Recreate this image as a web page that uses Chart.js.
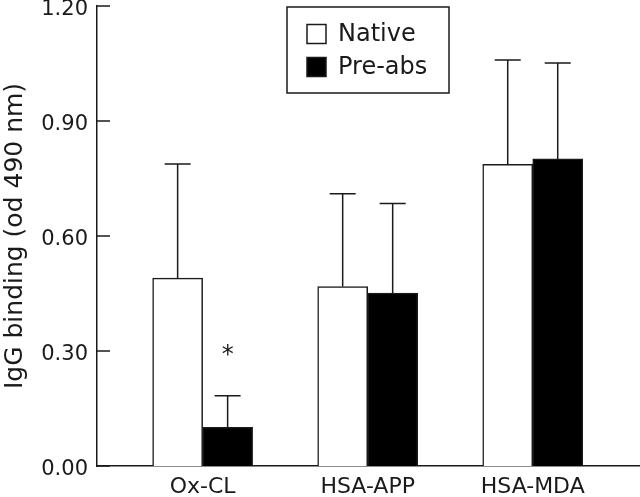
<!DOCTYPE html>
<html>
<head>
<meta charset="utf-8">
<script src="https://cdn.jsdelivr.net/npm/chart.js@4"></script>
<style>
  body { margin: 0; background: #fff; }
</style>
</head>
<body>
<canvas id="bar-chart" width="640" height="497"></canvas>
<script>
// data
var categories = ['Ox-CL', 'HSA-APP', 'HSA-MDA'];
var catPos = [1, 2, 3];
var nativeMean = [0.490, 0.468, 0.787];
var nativeErr = [0.298, 0.242, 0.272];
var preabsMean = [0.101, 0.451, 0.801];
var preabsErr = [0.082, 0.234, 0.250];
var preabsMarks = ['*', '', ''];
var yMin = 0, yMax = 1.2, yStep = 0.3;

var ink = '#1a1a1a';
var font = 'DejaVu Sans';

function toPoints(vals) {
  var out = [];
  for (var i = 0; i < vals.length; i++) out.push({ x: catPos[i], y: vals[i] });
  return out;
}

// upper error whiskers, inward y ticks, asterisk and boxed legend
var extras = {
  id: 'extras',
  afterDatasetsDraw: function (chart) {
    var ctx = chart.ctx;
    var y = chart.scales.y;
    var errs = [nativeErr, preabsErr];
    ctx.save();
    ctx.strokeStyle = ink;
    ctx.lineWidth = 1.5;
    chart.data.datasets.forEach(function (ds, d) {
      chart.getDatasetMeta(d).data.forEach(function (bar, i) {
        var top = y.getPixelForValue(ds.data[i].y + errs[d][i]);
        ctx.beginPath();
        ctx.moveTo(bar.x, bar.y);
        ctx.lineTo(bar.x, top);
        ctx.moveTo(bar.x - 13, top);
        ctx.lineTo(bar.x + 13, top);
        ctx.stroke();
        if (d === 1 && preabsMarks[i]) {
          ctx.fillStyle = ink;
          ctx.font = '24px "' + font + '"';
          ctx.textAlign = 'center';
          ctx.textBaseline = 'middle';
          ctx.fillText(preabsMarks[i], bar.x, top - 40);
        }
      });
    });
    ctx.restore();
  },
  afterDraw: function (chart) {
    var ctx = chart.ctx;
    var y = chart.scales.y;
    var area = chart.chartArea;
    ctx.save();
    ctx.strokeStyle = ink;
    ctx.lineWidth = 1.5;
    y.ticks.forEach(function (t) {
      var py = y.getPixelForValue(t.value);
      ctx.beginPath();
      ctx.moveTo(area.left, py);
      ctx.lineTo(area.left + 13, py);
      ctx.stroke();
    });

    // legend
    var bx = 287, by = 7, bw = 162, bh = 86;
    ctx.fillStyle = '#fff';
    ctx.fillRect(bx, by, bw, bh);
    ctx.strokeRect(bx, by, bw, bh);
    ctx.font = '24px "' + font + '"';
    ctx.textBaseline = 'middle';
    ctx.textAlign = 'left';
    chart.data.datasets.forEach(function (ds, d) {
      var cy = by + 27 + d * 33;
      ctx.fillStyle = ds.backgroundColor;
      ctx.fillRect(bx + 20, cy - 9.5, 19, 19);
      ctx.strokeRect(bx + 20, cy - 9.5, 19, 19);
      ctx.fillStyle = ink;
      ctx.fillText(ds.label, bx + 51, cy + 1);
    });
    ctx.restore();
  }
};

new Chart(document.getElementById('bar-chart'), {
  type: 'bar',
  data: {
    datasets: [
      {
        label: 'Native',
        data: toPoints(nativeMean),
        backgroundColor: '#ffffff',
        borderColor: ink,
        borderWidth: 1.5
      },
      {
        label: 'Pre-abs',
        data: toPoints(preabsMean),
        backgroundColor: '#000000',
        borderColor: ink,
        borderWidth: 1.5
      }
    ]
  },
  options: {
    responsive: false,
    animation: false,
    devicePixelRatio: 1,
    layout: { padding: { top: 6, right: 0, bottom: 0, left: 0 } },
    datasets: { bar: { barThickness: 50, grouped: true } },
    plugins: {
      legend: { display: false },
      tooltip: { enabled: false }
    },
    scales: {
      x: {
        type: 'linear',
        offset: false,
        min: 0.36,
        max: 3.65,
        afterBuildTicks: function (scale) {
          scale.ticks = catPos.map(function (v) { return { value: v }; });
        },
        afterFit: function (scale) { scale.height = 31; },
        grid: { display: false, drawTicks: false },
        border: { display: true, color: ink, width: 1.5 },
        ticks: {
          padding: 8,
          color: ink,
          font: { family: font, size: 22 },
          maxRotation: 0,
          callback: function (v) {
            var i = catPos.indexOf(v);
            return i >= 0 ? categories[i] : '';
          }
        }
      },
      y: {
        min: yMin,
        max: yMax,
        afterFit: function (scale) {
          scale.width = 97;
          scale.paddingTop = 0;
          scale.paddingBottom = 0;
        },
        grid: { display: false, drawTicks: false },
        border: { display: true, color: ink, width: 1.5 },
        ticks: {
          stepSize: yStep,
          padding: 9,
          labelOffset: 4,
          color: ink,
          font: { family: font, size: 21 },
          callback: function (v) { return v.toFixed(2); }
        },
        title: {
          display: true,
          text: 'IgG binding (od 490 nm)',
          color: ink,
          font: { family: font, size: 25 },
          padding: 0
        }
      }
    }
  },
  plugins: [extras]
});
</script>
</body>
</html>
